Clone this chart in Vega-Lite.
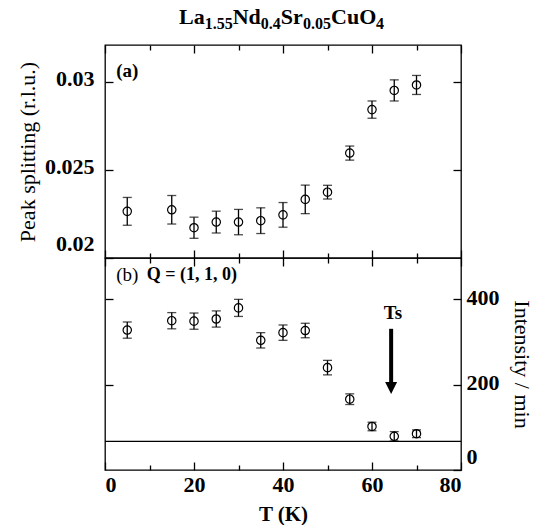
{
  "$schema": "https://vega.github.io/schema/vega-lite/v6.json",
  "padding": {"left": 15, "top": 5, "right": 0, "bottom": 0},
  "background": "white",
  "spacing": 0,
  "bounds": "flush",
  "datasets": {
    "split": [
      {"T": 5, "split": 0.02265, "err": 0.00079},
      {"T": 15, "split": 0.02274, "err": 0.00081},
      {"T": 20, "split": 0.02172, "err": 0.0006},
      {"T": 25, "split": 0.02204, "err": 0.00062},
      {"T": 30, "split": 0.02204, "err": 0.00072},
      {"T": 35, "split": 0.02212, "err": 0.00073},
      {"T": 40, "split": 0.02245, "err": 0.0007},
      {"T": 45, "split": 0.02333, "err": 0.00081},
      {"T": 50, "split": 0.02374, "err": 0.00039},
      {"T": 55, "split": 0.02596, "err": 0.0004},
      {"T": 60, "split": 0.02843, "err": 0.00049},
      {"T": 65, "split": 0.02952, "err": 0.0006},
      {"T": 70, "split": 0.02983, "err": 0.00054}
    ],
    "intensity": [
      {"T": 5, "intensity": 328, "err": 19},
      {"T": 15, "intensity": 350, "err": 19},
      {"T": 20, "intensity": 349, "err": 19},
      {"T": 25, "intensity": 354, "err": 19},
      {"T": 30, "intensity": 380, "err": 20},
      {"T": 35, "intensity": 304, "err": 18},
      {"T": 40, "intensity": 322, "err": 18},
      {"T": 45, "intensity": 327, "err": 17},
      {"T": 50, "intensity": 240, "err": 17},
      {"T": 55, "intensity": 166, "err": 12.5},
      {"T": 60, "intensity": 102, "err": 10},
      {"T": 65, "intensity": 79, "err": 11},
      {"T": 70, "intensity": 85, "err": 9}
    ],
    "one": [{}]
  },
  "config": {
    "view": {"stroke": "black", "strokeWidth": 1.3},
    "font": "Liberation Serif",
    "text": {"font": "Liberation Serif", "color": "black"},
    "axis": {
      "domain": false, "grid": false,
      "tickColor": "black", "tickWidth": 1.3,
      "labelColor": "black", "titleColor": "black",
      "labelFont": "Liberation Serif", "labelFontSize": 22, "labelFontWeight": "bold",
      "titleFont": "Liberation Serif", "titleFontSize": 22, "titleFontWeight": "normal"
    }
  },
  "vconcat": [
    {
      "width": 356,
      "height": 213,
      "data": {"name": "split"},
      "layer": [
        {
          "mark": {"type": "errorbar", "color": "black", "thickness": 1.3, "ticks": {"size": 9}},
          "encoding": {
            "x": {"field": "T", "type": "quantitative", "scale": {"domain": [0, 80], "nice": false}, "axis": null},
            "y": {"field": "split", "type": "quantitative", "scale": {"domain": [0.02, 0.0321], "nice": false}, "axis": null},
            "yError": {"field": "err"}
          }
        },
        {
          "mark": {"type": "point", "shape": "circle", "filled": false, "color": "black", "size": 70, "strokeWidth": 1.2, "opacity": 1},
          "encoding": {
            "x": {"field": "T", "type": "quantitative", "scale": {"domain": [0, 80], "nice": false},
                  "axis": {"orient": "bottom", "values": [0, 10, 20, 30, 40, 50, 60, 70, 80], "tickSize": {"condition": {"test": "datum.value % 20 === 0", "value": -8}, "value": -5}, "labels": false, "title": null}},
            "y": {"field": "split", "type": "quantitative", "scale": {"domain": [0.02, 0.0321], "nice": false},
                  "axis": {"orient": "left", "values": [0.02, 0.025, 0.03], "format": "~g", "tickSize": -8, "labelPadding": 19, "labelFlush": true, "labelOffset": -3, "title": "Peak splitting (r.l.u.)", "titlePadding": 5}}
          }
        },
        {
          "data": {"name": "one"},
          "mark": {"type": "text", "text": "(a)", "align": "left", "baseline": "middle", "fontSize": 19, "fontWeight": "bold"},
          "encoding": {
            "x": {"datum": 2.5, "type": "quantitative", "scale": {"domain": [0, 80], "nice": false},
                  "axis": {"orient": "top", "values": [0, 10, 20, 30, 40, 50, 60, 70, 80], "tickSize": {"condition": {"test": "datum.value % 20 === 0", "value": -8}, "value": -5}, "labels": false, "title": null}},
            "y": {"datum": 0.0306, "type": "quantitative", "scale": {"domain": [0.02, 0.0321], "nice": false},
                  "axis": {"orient": "right", "values": [0.025, 0.03], "tickSize": -8, "labels": false, "title": null}}
          }
        },
        {
          "data": {"name": "one"},
          "mark": {"type": "text", "text": "La", "align": "left", "baseline": "alphabetic", "fontSize": 22, "fontWeight": "bold", "clip": false},
          "encoding": {
            "x": {"datum": 16.63, "type": "quantitative", "axis": null},
            "y": {"datum": 0.0333, "type": "quantitative", "axis": null}
          }
        },
        {
          "data": {"name": "one"},
          "mark": {"type": "text", "text": "1.55", "align": "left", "baseline": "alphabetic", "fontSize": 16, "fontWeight": "bold", "clip": false},
          "encoding": {
            "x": {"datum": 22.4, "type": "quantitative", "axis": null},
            "y": {"datum": 0.03302, "type": "quantitative", "axis": null}
          }
        },
        {
          "data": {"name": "one"},
          "mark": {"type": "text", "text": "Nd", "align": "left", "baseline": "alphabetic", "fontSize": 22, "fontWeight": "bold", "clip": false},
          "encoding": {
            "x": {"datum": 28.7, "type": "quantitative", "axis": null},
            "y": {"datum": 0.0333, "type": "quantitative", "axis": null}
          }
        },
        {
          "data": {"name": "one"},
          "mark": {"type": "text", "text": "0.4", "align": "left", "baseline": "alphabetic", "fontSize": 16, "fontWeight": "bold", "clip": false},
          "encoding": {
            "x": {"datum": 35.0, "type": "quantitative", "axis": null},
            "y": {"datum": 0.03302, "type": "quantitative", "axis": null}
          }
        },
        {
          "data": {"name": "one"},
          "mark": {"type": "text", "text": "Sr", "align": "left", "baseline": "alphabetic", "fontSize": 22, "fontWeight": "bold", "clip": false},
          "encoding": {
            "x": {"datum": 39.5, "type": "quantitative", "axis": null},
            "y": {"datum": 0.0333, "type": "quantitative", "axis": null}
          }
        },
        {
          "data": {"name": "one"},
          "mark": {"type": "text", "text": "0.05", "align": "left", "baseline": "alphabetic", "fontSize": 16, "fontWeight": "bold", "clip": false},
          "encoding": {
            "x": {"datum": 44.5, "type": "quantitative", "axis": null},
            "y": {"datum": 0.03302, "type": "quantitative", "axis": null}
          }
        },
        {
          "data": {"name": "one"},
          "mark": {"type": "text", "text": "CuO", "align": "left", "baseline": "alphabetic", "fontSize": 22, "fontWeight": "bold", "clip": false},
          "encoding": {
            "x": {"datum": 50.8, "type": "quantitative", "axis": null},
            "y": {"datum": 0.0333, "type": "quantitative", "axis": null}
          }
        },
        {
          "data": {"name": "one"},
          "mark": {"type": "text", "text": "4", "align": "left", "baseline": "alphabetic", "fontSize": 16, "fontWeight": "bold", "clip": false},
          "encoding": {
            "x": {"datum": 60.9, "type": "quantitative", "axis": null},
            "y": {"datum": 0.03302, "type": "quantitative", "axis": null}
          }
        }
      ],
      "resolve": {"axis": {"x": "independent", "y": "independent"}}
    },
    {
      "width": 356,
      "height": 212,
      "data": {"name": "intensity"},
      "layer": [
        {
          "data": {"name": "one"},
          "mark": {"type": "rule", "color": "black", "strokeWidth": 1.2},
          "encoding": {
            "y": {"datum": 67, "type": "quantitative", "scale": {"domain": [0, 497], "nice": false}, "axis": null}
          }
        },
        {
          "mark": {"type": "errorbar", "color": "black", "thickness": 1.3, "ticks": {"size": 9}},
          "encoding": {
            "x": {"field": "T", "type": "quantitative", "scale": {"domain": [0, 80], "nice": false}, "axis": null},
            "y": {"field": "intensity", "type": "quantitative", "scale": {"domain": [0, 497], "nice": false}, "axis": null},
            "yError": {"field": "err"}
          }
        },
        {
          "mark": {"type": "point", "shape": "circle", "filled": false, "color": "black", "size": 70, "strokeWidth": 1.2, "opacity": 1},
          "encoding": {
            "x": {"field": "T", "type": "quantitative", "scale": {"domain": [0, 80], "nice": false},
                  "axis": {"orient": "bottom", "values": [0, 10, 20, 30, 40, 50, 60, 70, 80], "tickSize": {"condition": {"test": "datum.value % 20 === 0", "value": -8}, "value": -5}, "labelExpr": "datum.value % 20 === 0 ? datum.label : ''", "labelPadding": 12, "title": "T (K)", "titleFontWeight": "bold", "titleFontSize": 21, "titlePadding": 8}},
            "y": {"field": "intensity", "type": "quantitative", "scale": {"domain": [0, 497], "nice": false},
                  "axis": {"orient": "right", "values": [0, 200, 400], "tickSize": -8, "labelPadding": 13, "labelFlush": true, "labelOffset": -2, "title": "Intensity / min", "titlePadding": 10}}
          }
        },
        {
          "data": {"name": "one"},
          "mark": {"type": "text", "text": "(b)", "align": "left", "baseline": "middle", "fontSize": 19, "fontWeight": "normal"},
          "encoding": {
            "x": {"datum": 2.5, "type": "quantitative", "scale": {"domain": [0, 80], "nice": false},
                  "axis": {"orient": "top", "values": [0, 10, 20, 30, 40, 50, 60, 70, 80], "tickSize": {"condition": {"test": "datum.value % 20 === 0", "value": -8}, "value": -5}, "labels": false, "title": null}},
            "y": {"datum": 457, "type": "quantitative", "scale": {"domain": [0, 497], "nice": false},
                  "axis": {"orient": "left", "values": [200, 400], "tickSize": -8, "labels": false, "title": null}}
          }
        },
        {
          "data": {"name": "one"},
          "mark": {"type": "text", "text": "Q = (1, 1, 0)", "align": "left", "baseline": "middle", "fontSize": 18, "fontWeight": "bold"},
          "encoding": {
            "x": {"datum": 9.4, "type": "quantitative", "axis": null},
            "y": {"datum": 457, "type": "quantitative", "axis": null}
          }
        },
        {
          "data": {"name": "one"},
          "mark": {"type": "text", "text": "Ts", "align": "center", "baseline": "middle", "fontSize": 19, "fontWeight": "bold"},
          "encoding": {
            "x": {"datum": 64.7, "type": "quantitative", "axis": null},
            "y": {"datum": 367, "type": "quantitative", "axis": null}
          }
        },
        {
          "data": {"name": "one"},
          "mark": {"type": "rule", "color": "black", "strokeWidth": 4},
          "encoding": {
            "x": {"datum": 64.3, "type": "quantitative", "axis": null},
            "y": {"datum": 331, "type": "quantitative", "axis": null},
            "y2": {"datum": 200}
          }
        },
        {
          "data": {"name": "one"},
          "mark": {"type": "point", "shape": "M-1,-1L1,-1L0,1Z", "filled": true, "color": "black", "size": 144, "opacity": 1, "strokeWidth": 0},
          "encoding": {
            "x": {"datum": 64.3, "type": "quantitative", "axis": null},
            "y": {"datum": 192, "type": "quantitative", "axis": null}
          }
        }
      ],
      "resolve": {"axis": {"x": "independent", "y": "independent"}}
    }
  ]
}
